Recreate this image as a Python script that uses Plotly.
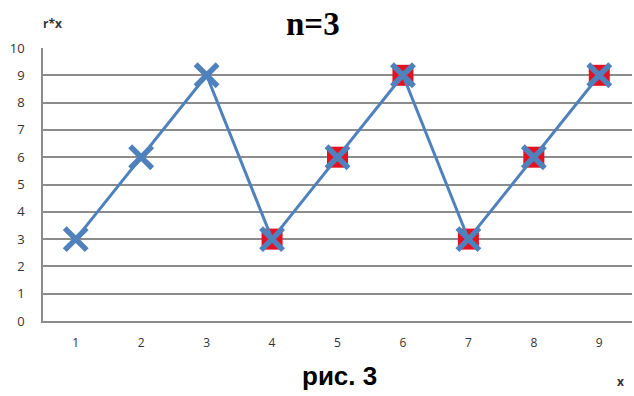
import plotly.graph_objects as go

# r*x values for n = 3
x_vals = [1, 2, 3, 4, 5, 6, 7, 8, 9]
rx_vals = [3, 6, 9, 3, 6, 9, 3, 6, 9]
# points highlighted with a red square (repeats of the cycle)
hl_x = [4, 5, 6, 7, 8, 9]
hl_y = [3, 6, 9, 3, 6, 9]

y_ticks = list(range(0, 11))

blue = "#4F81BD"
grid = "#8C8C8C"
label = "#333333"

fig = go.Figure()

fig.add_trace(go.Scatter(
    x=hl_x, y=hl_y, mode="markers",
    marker=dict(symbol="square", size=21, color="#E8101E", line=dict(width=0)),
    hoverinfo="skip", showlegend=False,
))

fig.add_trace(go.Scatter(
    x=x_vals, y=rx_vals, mode="lines+markers",
    line=dict(color=blue, width=3),
    marker=dict(symbol="x-thin", size=22, color=blue,
                line=dict(width=5.5, color=blue)),
    showlegend=False,
))

fig.update_layout(
    width=634, height=396,
    margin=dict(l=43, r=2, t=48, b=75),
    paper_bgcolor="white", plot_bgcolor="white",
    xaxis=dict(
        range=[0.5, 9.5], tickmode="array", tickvals=x_vals,
        ticktext=[str(v) for v in x_vals],
        showgrid=False, zeroline=False,
        showline=True, linecolor=grid, linewidth=1.5,
        ticks="", ticklabelstandoff=10,
        tickfont=dict(family="Open Sans", size=12, color=label),
    ),
    yaxis=dict(
        range=[0, 10], tickmode="array", tickvals=y_ticks,
        showgrid=True, gridcolor=grid, gridwidth=1.5,
        zeroline=False, showline=True, linecolor=grid, linewidth=1.5,
        mirror=False, ticks="", ticklabelstandoff=14,
        tickfont=dict(family="Open Sans", size=13, color=label),
    ),
    annotations=[
        dict(text="<b>n=3</b>", x=0.5, y=1, xref="paper", yref="paper",
             xanchor="center", yanchor="bottom", yshift=4, xshift=-25,
             showarrow=False,
             font=dict(family="Liberation Serif", size=33, color="black")),
        dict(text="<b>r*x</b>", x=0, y=1, xref="paper", yref="paper",
             xanchor="left", yanchor="bottom", yshift=14, xshift=-2,
             showarrow=False,
             font=dict(family="Open Sans", size=12, color=label)),
        dict(text="<b>рис. 3</b>", x=0.5, y=0, xref="paper", yref="paper",
             xanchor="center", yanchor="top", yshift=-38, xshift=2,
             showarrow=False,
             font=dict(family="Liberation Sans", size=26, color="black")),
        dict(text="<b>x</b>", x=1, y=0, xref="paper", yref="paper",
             xanchor="center", yanchor="top", yshift=-50, xshift=-12,
             showarrow=False,
             font=dict(family="Open Sans", size=12, color=label)),
    ],
)

fig.write_html("out.html")
